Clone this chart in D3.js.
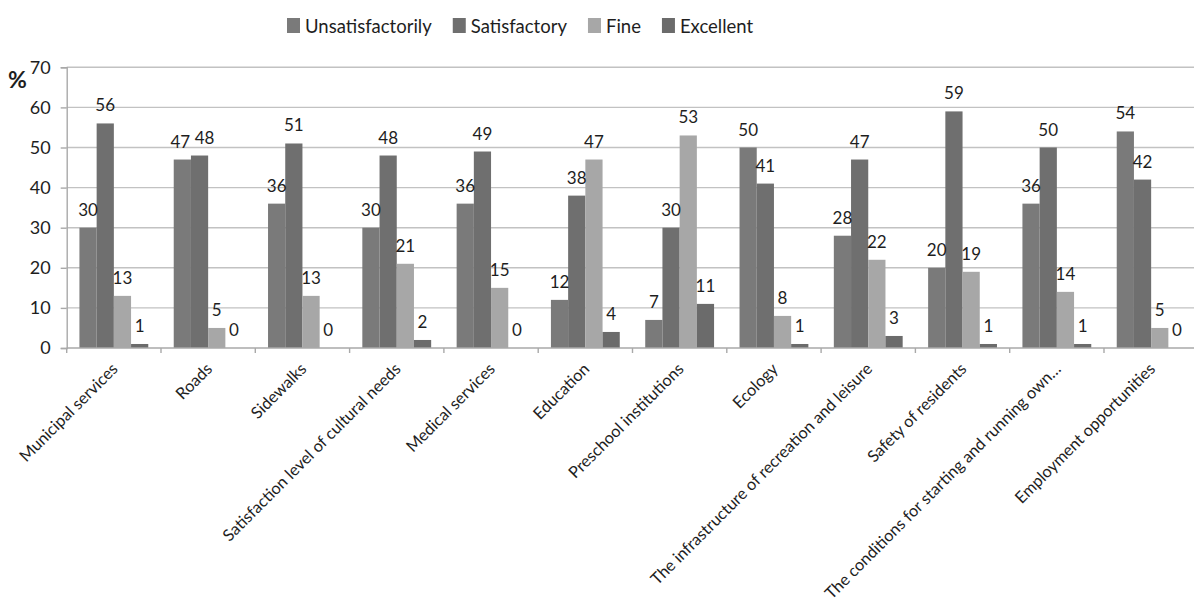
<!DOCTYPE html>
<html>
<head>
<meta charset="utf-8">
<script src="https://cdn.jsdelivr.net/npm/d3@7"></script>
<style>
  html, body { margin: 0; padding: 0; background: #fff; }
  svg { display: block; font-family: Lato, "Open Sans", sans-serif; }
</style>
</head>
<body>
<svg id="chart" width="1194" height="604"></svg>
<script>
// Survey results: share of respondents (%) per rating, by city service
const categories = [
  "Municipal services",
  "Roads",
  "Sidewalks",
  "Satisfaction level of cultural needs",
  "Medical services",
  "Education",
  "Preschool institutions",
  "Ecology",
  "The infrastructure of recreation and leisure",
  "Safety of residents",
  "The conditions for starting and running own…",
  "Employment opportunities"
];
const seriesNames = ["Unsatisfactorily", "Satisfactory", "Fine", "Excellent"];
const unsatisfactorily = [30, 47, 36, 30, 36, 12, 7, 50, 28, 20, 36, 54];
const satisfactory     = [56, 48, 51, 48, 49, 38, 30, 41, 47, 59, 50, 42];
const fine             = [13, 5, 13, 21, 15, 47, 53, 8, 22, 19, 14, 5];
const excellent        = [1, 0, 0, 2, 0, 4, 11, 1, 3, 1, 1, 0];
const yTicks = [0, 10, 20, 30, 40, 50, 60, 70];

const seriesValues = [unsatisfactorily, satisfactory, fine, excellent];
const colors = ["#7a7a7a", "#6f6f6f", "#a7a7a7", "#6b6b6b"];
const inkColor = "#1e1e1e";

const svg = d3.select("#chart");
const plotLeft = 66.7, plotRight = 1198.3, plotTop = 67.3, plotBottom = 348;

const x = d3.scaleBand().domain(categories).range([plotLeft, plotRight]).paddingInner(0).paddingOuter(0);
const xs = d3.scaleBand().domain(seriesNames).range([0, x.bandwidth()]).paddingInner(0).paddingOuter(0.74);
const y = d3.scaleLinear().domain([0, 70]).range([plotBottom, plotTop]);

// horizontal gridlines
svg.append("g")
  .selectAll("line")
  .data(yTicks.filter(t => t > 0))
  .join("line")
  .attr("x1", plotLeft).attr("x2", plotRight)
  .attr("y1", d => y(d)).attr("y2", d => y(d))
  .attr("stroke", "#c2c2c2").attr("stroke-width", 1.4);

// y axis
const yAxis = svg.append("g")
  .attr("transform", `translate(${plotLeft},0)`)
  .call(d3.axisLeft(y).tickValues(yTicks).tickSize(6).tickPadding(10));
yAxis.select(".domain").attr("stroke", "#a9a9a9").attr("stroke-width", 1.4);
yAxis.selectAll(".tick line").attr("stroke", "#a9a9a9").attr("stroke-width", 1.4);
yAxis.selectAll(".tick text").attr("font-size", 18).attr("fill", inkColor).attr("font-family", "Lato, sans-serif");

// bars
const groups = svg.append("g")
  .selectAll("g")
  .data(categories)
  .join("g")
  .attr("transform", d => `translate(${x(d)},0)`);

groups.selectAll("rect")
  .data((d, i) => seriesNames.map((s, k) => ({ s, k, v: seriesValues[k][i] })))
  .join("rect")
  .attr("x", d => xs(d.s))
  .attr("width", xs.bandwidth())
  .attr("y", d => y(d.v))
  .attr("height", d => plotBottom - y(d.v))
  .attr("fill", d => colors[d.k]);

// value labels; neighbouring labels at nearly the same height are nudged apart
function labelData(i) {
  const items = seriesNames.map((s, k) => ({
    s, k, v: seriesValues[k][i],
    cx: xs(s) + xs.bandwidth() / 2,
    cy: y(seriesValues[k][i]) - 12
  }));
  for (let k = 1; k < items.length; k++) {
    if (Math.abs(items[k].cy - items[k - 1].cy) < 15) {
      items[k - 1].cx -= 2;
      items[k].cx += 5;
    }
  }
  return items;
}
groups.selectAll("text")
  .data((d, i) => labelData(i))
  .join("text")
  .attr("x", d => d.cx)
  .attr("y", d => d.cy)
  .attr("text-anchor", "middle")
  .attr("font-size", 17)
  .attr("fill", inkColor)
  .text(d => d.v);

// x axis
const xAxis = svg.append("g")
  .attr("transform", `translate(0,${plotBottom})`);
xAxis.append("line")
  .attr("x1", plotLeft).attr("x2", plotRight).attr("y1", 0).attr("y2", 0)
  .attr("stroke", "#a9a9a9").attr("stroke-width", 1.4);
xAxis.selectAll("line.tk")
  .data(categories)
  .join("line")
  .attr("class", "tk")
  .attr("x1", d => x(d)).attr("x2", d => x(d))
  .attr("y1", 0).attr("y2", 5)
  .attr("stroke", "#a9a9a9").attr("stroke-width", 1.4);
xAxis.selectAll("text")
  .data(categories)
  .join("text")
  .attr("transform", d => `translate(${x(d) + x.bandwidth() / 2 + 5},22) rotate(-45)`)
  .attr("text-anchor", "end")
  .attr("font-size", 16.3)
  .attr("fill", inkColor)
  .text(d => d);

// unit label
svg.append("text")
  .attr("x", 8).attr("y", 88)
  .attr("font-size", 23).attr("font-weight", "bold")
  .attr("fill", inkColor)
  .text("%");

// legend
const legend = svg.append("g").attr("transform", "translate(287,0)");
let lx = 0;
seriesNames.forEach((name, k) => {
  const item = legend.append("g").attr("transform", `translate(${lx},0)`);
  item.append("rect").attr("x", 0).attr("y", 18).attr("width", 13).attr("height", 15).attr("fill", colors[k]);
  const t = item.append("text").attr("x", 18).attr("y", 33)
    .attr("font-size", 18.5).attr("fill", inkColor).text(name);
  lx += 18 + t.node().getComputedTextLength() + 21;
});
</script>
</body>
</html>
